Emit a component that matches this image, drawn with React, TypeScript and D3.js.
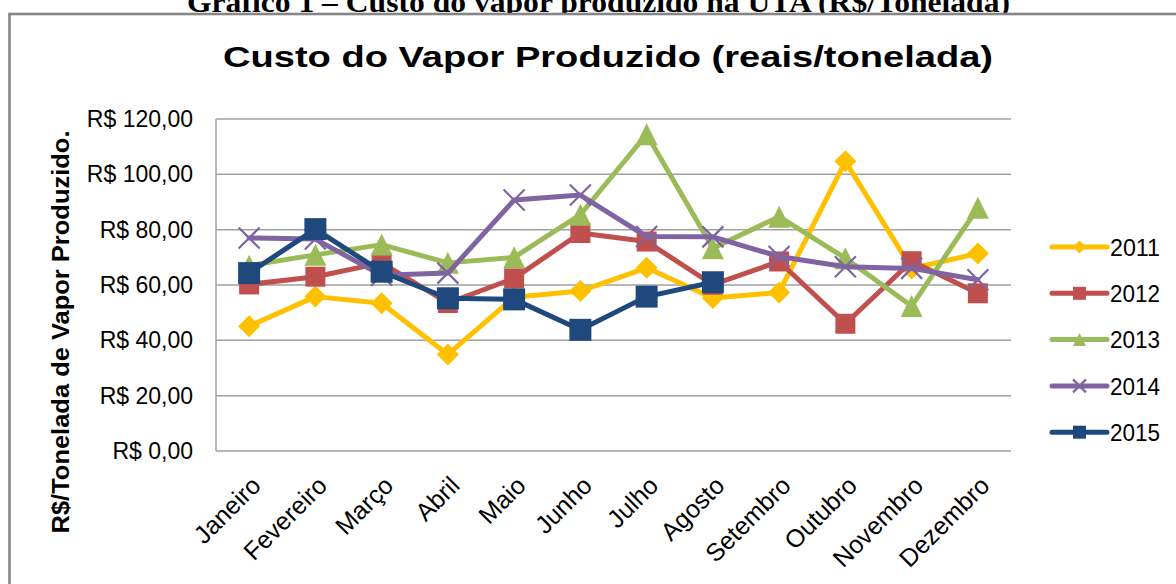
import React from "react";
import * as d3 from "d3";

const months = ["Janeiro","Fevereiro","Março","Abril","Maio","Junho","Julho","Agosto","Setembro","Outubro","Novembro","Dezembro"];
const years = ["2011","2012","2013","2014","2015"];
const s2011: (number|null)[] = [45.1, 55.8, 53.4, 34.9, 55.6, 57.8, 66.2, 55.3, 57.3, 104.7, 66.0, 71.4];
const s2012: (number|null)[] = [60.2, 63.0, 68.0, 53.5, 62.4, 78.8, 75.7, 60.1, 68.5, 46.0, 68.6, 57.0];
const s2013: (number|null)[] = [67.0, 70.9, 74.6, 68.0, 70.0, 85.4, 114.5, 73.3, 84.7, 69.7, 52.4, 87.9];
const s2014: (number|null)[] = [77.0, 76.6, 63.5, 64.3, 90.7, 92.5, 77.5, 77.4, 70.3, 66.6, 66.0, 61.9];
const s2015: (number|null)[] = [64.3, 80.2, 64.8, 55.2, 54.8, 43.8, 55.8, 61.0, null, null, null, null];
const yTicks = [0, 20, 40, 60, 80, 100, 120];

const seriesValues = [s2011, s2012, s2013, s2014, s2015];
const colors = ["#FFC000", "#C0504D", "#9BBB59", "#8064A2", "#1F497D"];
const markerKinds = ["diamond", "square", "triangle", "x", "square"];

const FONT = "'Liberation Sans', Arial, sans-serif";

function markerPath(kind: string, cx: number, cy: number, s: number): string {
  const p = d3.path();
  const h = s / 2;
  if (kind === "diamond") {
    p.moveTo(cx, cy - h); p.lineTo(cx + h, cy); p.lineTo(cx, cy + h); p.lineTo(cx - h, cy); p.closePath();
  } else if (kind === "square") {
    p.rect(cx - h, cy - h, s, s);
  } else if (kind === "triangle") {
    p.moveTo(cx, cy - h); p.lineTo(cx + h, cy + h); p.lineTo(cx - h, cy + h); p.closePath();
  } else {
    p.moveTo(cx - h, cy - h); p.lineTo(cx + h, cy + h);
    p.moveTo(cx + h, cy - h); p.lineTo(cx - h, cy + h);
  }
  return p.toString();
}

function Marker({ kind, cx, cy, s, color }: { kind: string; cx: number; cy: number; s: number; color: string }) {
  if (kind === "x") {
    return <path d={markerPath(kind, cx, cy, s)} stroke={color} strokeWidth={2.2} fill="none" />;
  }
  return <path d={markerPath(kind, cx, cy, s)} fill={color} stroke="none" />;
}

export default function App() {
  const W = 1176, H = 584;
  const x = d3.scalePoint<string>().domain(months).range([216, 1011]).padding(0.5);
  const y = d3.scaleLinear().domain([0, 120]).range([451, 119]);
  const line = d3.line<number | null>()
    .defined((d) => d !== null)
    .x((_, i) => x(months[i]) as number)
    .y((d) => y(d as number));
  const fmt = (v: number) => "R$ " + v.toFixed(2).replace(".", ",");
  const markerSizes = [22, 20, 22, 21, 22];

  return (
    <svg width={W} height={H} style={{ position: "absolute", left: 0, top: 0, background: "#fff" }} xmlns="http://www.w3.org/2000/svg">
      <rect x={0} y={0} width={W} height={H} fill="#fff" />
      {/* document header */}
      <text x={187} y={12} textLength={823} lengthAdjust="spacingAndGlyphs"
        fontFamily="'Liberation Serif', 'Times New Roman', serif" fontWeight="bold" fontSize={30} fill="#000">
        Gráfico 1 – Custo do vapor produzido na UTA (R$/Tonelada)
      </text>
      {/* chart border */}
      <rect x={9.5} y={14} width={W + 20} height={H + 20} fill="#fff" stroke="#868686" strokeWidth={2.6} />
      {/* title */}
      <text x={223} y={67} textLength={770} lengthAdjust="spacingAndGlyphs" fontFamily={FONT} fontWeight="bold" fontSize={29} fill="#000">
        Custo do Vapor Produzido (reais/tonelada)
      </text>
      {/* y axis title */}
      <text transform={`translate(69, 332) rotate(-90)`} textAnchor="middle" textLength={403} lengthAdjust="spacingAndGlyphs"
        fontFamily={FONT} fontWeight="bold" fontSize={23} fill="#000">
        R$/Tonelada de Vapor Produzido.
      </text>
      {/* gridlines */}
      {yTicks.filter((t) => t > 0).map((t) => (
        <line key={t} x1={216} x2={1011} y1={y(t)} y2={y(t)} stroke="#a0a0a0" strokeWidth={1.5} />
      ))}
      <line x1={216} x2={216} y1={y(120)} y2={y(0)} stroke="#a0a0a0" strokeWidth={1.5} />
      <line x1={216} x2={1011} y1={y(0)} y2={y(0)} stroke="#a0a0a0" strokeWidth={1.5} />
      {/* y tick labels */}
      {yTicks.map((t) => (
        <text key={t} x={193} y={y(t)} dy="0.35em" textAnchor="end" fontFamily={FONT} fontSize={23} fill="#000">
          {fmt(t)}
        </text>
      ))}
      {/* x labels */}
      {months.map((m) => (
        <text key={m} transform={`translate(${(x(m) as number) + 7}, 481) rotate(-45)`} dy="0.35em" textAnchor="end"
          fontFamily={FONT} fontSize={25} fill="#000">
          {m}
        </text>
      ))}
      {/* series */}
      {seriesValues.map((vals, si) => (
        <g key={years[si]}>
          <path d={line(vals) || ""} fill="none" stroke={colors[si]} strokeWidth={5} strokeLinejoin="round" strokeLinecap="round" />
          {vals.map((v, i) => v === null ? null : (
            <Marker key={i} kind={markerKinds[si]} cx={x(months[i]) as number} cy={y(v)} s={markerSizes[si]} color={colors[si]} />
          ))}
        </g>
      ))}
      {/* legend */}
      {years.map((yr, si) => {
        const cy = 247 + si * 46.3;
        return (
          <g key={yr}>
            <line x1={1052} x2={1107} y1={cy} y2={cy} stroke={colors[si]} strokeWidth={5} strokeLinecap="round" />
            <Marker kind={markerKinds[si]} cx={1079.5} cy={cy} s={13} color={colors[si]} />
            <text x={1110} y={cy} dy="0.36em" textLength={50} lengthAdjust="spacingAndGlyphs" fontFamily={FONT} fontSize={24} fill="#000">{yr}</text>
          </g>
        );
      })}
    </svg>
  );
}
